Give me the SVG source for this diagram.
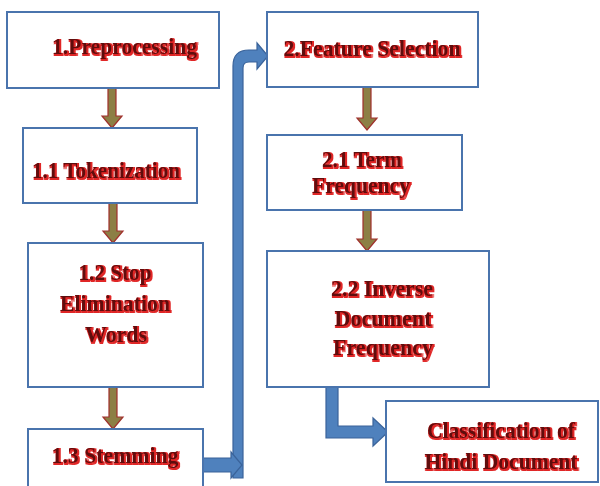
<svg xmlns="http://www.w3.org/2000/svg" width="600" height="486" viewBox="0 0 600 486">
<defs>
<filter id="sh" x="-5%" y="-20%" width="110%" height="140%">
<feMorphology in="SourceAlpha" operator="dilate" radius="0.5" result="d"/>
<feOffset in="d" dx="0.7" dy="0.7" result="o"/>
<feFlood flood-color="#e02828"/>
<feComposite in2="o" operator="in" result="r"/>
<feMerge><feMergeNode in="r"/><feMergeNode in="SourceGraphic"/></feMerge>
</filter>
<style>
.box{fill:#fff;stroke:#4a74ad;stroke-width:2}
.t{font-family:'Liberation Serif',serif;font-weight:bold;font-size:24px;fill:#5e0909;text-anchor:middle;filter:url(#sh)}
.ba{fill:#8c7f45;stroke:#a0302c;stroke-width:1.2;stroke-linejoin:miter}
.bl{fill:#4f81bd;stroke:#3a639a;stroke-width:1.2}
</style>
</defs>
<rect width="600" height="486" fill="#fff"/>
<g id="connectors">
<path class="ba" d="M108,88 H116 V116 H122 L112,128 L102,116 H108 Z"/>
<path class="ba" d="M109,203 H117 V231 H123 L113,243 L103,231 H109 Z"/>
<path class="ba" d="M109,387 H117 V417 H123 L113,429 L103,417 H109 Z"/>
<path class="ba" d="M363,87 H371 V118 H377 L367,130 L357,118 H363 Z"/>
<path class="ba" d="M363,210 H371 V239 H377 L367,251 L357,239 H363 Z"/>
<path class="bl" d="M233,478 V66 Q233,50 249,50 H257 V43 L268,56 L257,69 V62 H249 Q243,62 243,68 V478 Z"/>
<path class="bl" d="M203,458 H231 V452 L242,465 L231,478 V472 H203 Z"/>
<path class="bl" d="M326,387 H338 V426 H373 V418 L388,432 L373,446 V438 H326 Z"/>
</g>
<g id="n1">
<rect class="box" x="7" y="12" width="212" height="76"/>
<text class="t" x="124.5" y="54" textLength="145" lengthAdjust="spacingAndGlyphs">1.Preprocessing</text>
</g>
<g id="n11">
<rect class="box" x="23" y="128" width="174" height="75"/>
<text class="t" x="106" y="178" textLength="148" lengthAdjust="spacingAndGlyphs">1.1 Tokenization</text>
</g>
<g id="n12">
<rect class="box" x="28" y="243" width="175" height="144"/>
<text class="t" x="115" y="280" textLength="73" lengthAdjust="spacingAndGlyphs">1.2 Stop</text>
<text class="t" x="115" y="311" textLength="110" lengthAdjust="spacingAndGlyphs">Elimination</text>
<text class="t" x="116" y="342" textLength="62" lengthAdjust="spacingAndGlyphs">Words</text>
</g>
<g id="n13">
<rect class="box" x="28" y="429" width="175" height="70"/>
<text class="t" x="115" y="463" textLength="127" lengthAdjust="spacingAndGlyphs">1.3 Stemming</text>
</g>
<g id="n2">
<rect class="box" x="267" y="12" width="211" height="75"/>
<text class="t" x="372" y="56" textLength="177" lengthAdjust="spacingAndGlyphs">2.Feature Selection</text>
</g>
<g id="n21">
<rect class="box" x="267" y="135" width="195" height="75"/>
<text class="t" x="362" y="167" textLength="80" lengthAdjust="spacingAndGlyphs">2.1 Term</text>
<text class="t" x="361" y="193" textLength="98" lengthAdjust="spacingAndGlyphs">Frequency</text>
</g>
<g id="n22">
<rect class="box" x="267" y="251" width="222" height="136"/>
<text class="t" x="382" y="296" textLength="102" lengthAdjust="spacingAndGlyphs">2.2 Inverse</text>
<text class="t" x="383" y="326" textLength="97" lengthAdjust="spacingAndGlyphs">Document</text>
<text class="t" x="383" y="355" textLength="100" lengthAdjust="spacingAndGlyphs">Frequency</text>
</g>
<g id="n3">
<rect class="box" x="386" y="401" width="212" height="81"/>
<text class="t" x="501" y="438" textLength="148" lengthAdjust="spacingAndGlyphs">Classification of</text>
<text class="t" x="501" y="469" textLength="153" lengthAdjust="spacingAndGlyphs">Hindi Document</text>
</g>
</svg>
